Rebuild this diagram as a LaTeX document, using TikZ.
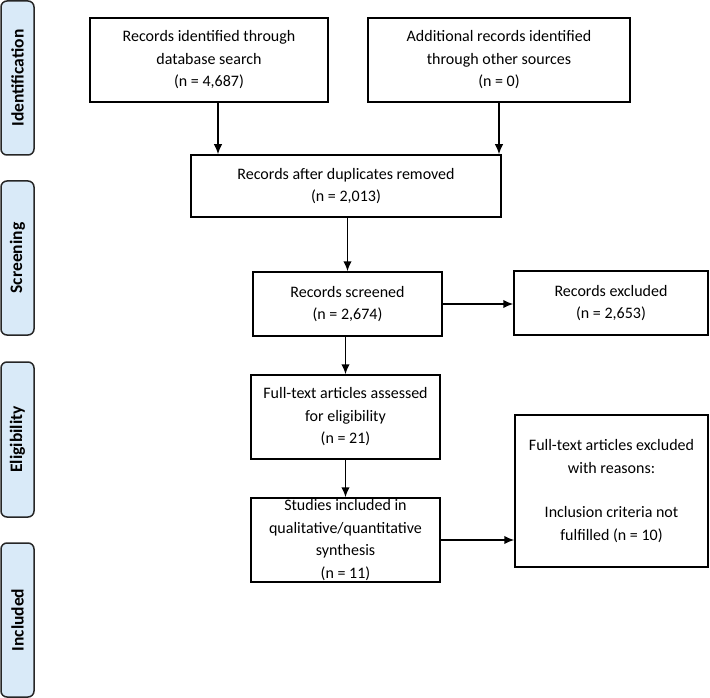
\documentclass[tikz,border=0pt]{standalone}
\usepackage{fontspec}
\setmainfont{Carlito}
\usetikzlibrary{arrows.meta,calc}
\definecolor{sidefill}{HTML}{D9EAF8}
\tikzset{
  box/.style={draw=black, line width=1.5pt, fill=white, align=center, inner sep=0pt, font=\fontsize{16}{22.5}\selectfont},
  side/.style={draw=black!85, line width=1.5pt, fill=sidefill, rounded corners=6pt, rotate=90, inner sep=0pt, minimum height=33pt, font=\bfseries\fontsize{17.5}{20}\selectfont},
  arr/.style={line width=1.6pt, -{Latex[length=10pt,width=8.5pt]}}
}
\begin{document}
\begin{tikzpicture}[x=1pt,y=-1pt]
\useasboundingbox (0,0) rectangle (710,698);
% side labels
\node[side, minimum width=154pt] (s1) at (17.5,78) {Identification};
\node[side, minimum width=154pt] (s2) at (17.5,258) {Screening};
\node[side, minimum width=155pt] (s3) at (17.5,439.5) {Eligibility};
\node[side, minimum width=154pt] (s4) at (17.5,620) {Included};
% boxes
\node[box, minimum width=238pt, minimum height=84pt] (b1) at (209,60) {Records identified through\\database search\\(n = 4,687)};
\node[box, minimum width=262pt, minimum height=84pt] (b2) at (499,60) {Additional records identified\\through other sources\\(n = 0)};
\node[box, minimum width=310pt, minimum height=62pt] (dup) at (346,186) {Records after duplicates removed\\(n = 2,013)};
\node[box, minimum width=189pt, minimum height=64pt] (scr) at (347.5,304) {Records screened\\(n = 2,674)};
\node[box, minimum width=194pt, minimum height=64pt] (exc) at (611,303) {Records excluded\\(n = 2,653)};
\node[box, minimum width=189pt, minimum height=84pt] (ft) at (345.5,417) {Full-text articles assessed\\for eligibility\\(n = 21)};
\node[box, minimum width=189pt, minimum height=84pt] (inc) at (345.5,540) {Studies included in\\qualitative/quantitative\\synthesis\\(n = 11)};
\node[box, minimum width=193pt, minimum height=152pt] (exc2) at (611.5,491) {Full-text articles excluded\\with reasons:\\[22pt]Inclusion criteria not\\fulfilled (n = 10)};
% arrows
\draw[arr] ([xshift=9pt]b1.south) -- ([xshift=9pt]b1.south |- dup.north);
\draw[arr] (b2.south) -- (b2.south |- dup.north);
\draw[arr] (dup.south -| scr.north) -- (scr.north);
\draw[arr] (scr.east) -- (exc.west |- scr.east);
\draw[arr] (scr.south -| ft.north) -- (ft.north);
\draw[arr] (ft.south) -- (inc.north);
\draw[arr] (inc.east) -- (exc2.west |- inc.east);
\end{tikzpicture}
\end{document}
